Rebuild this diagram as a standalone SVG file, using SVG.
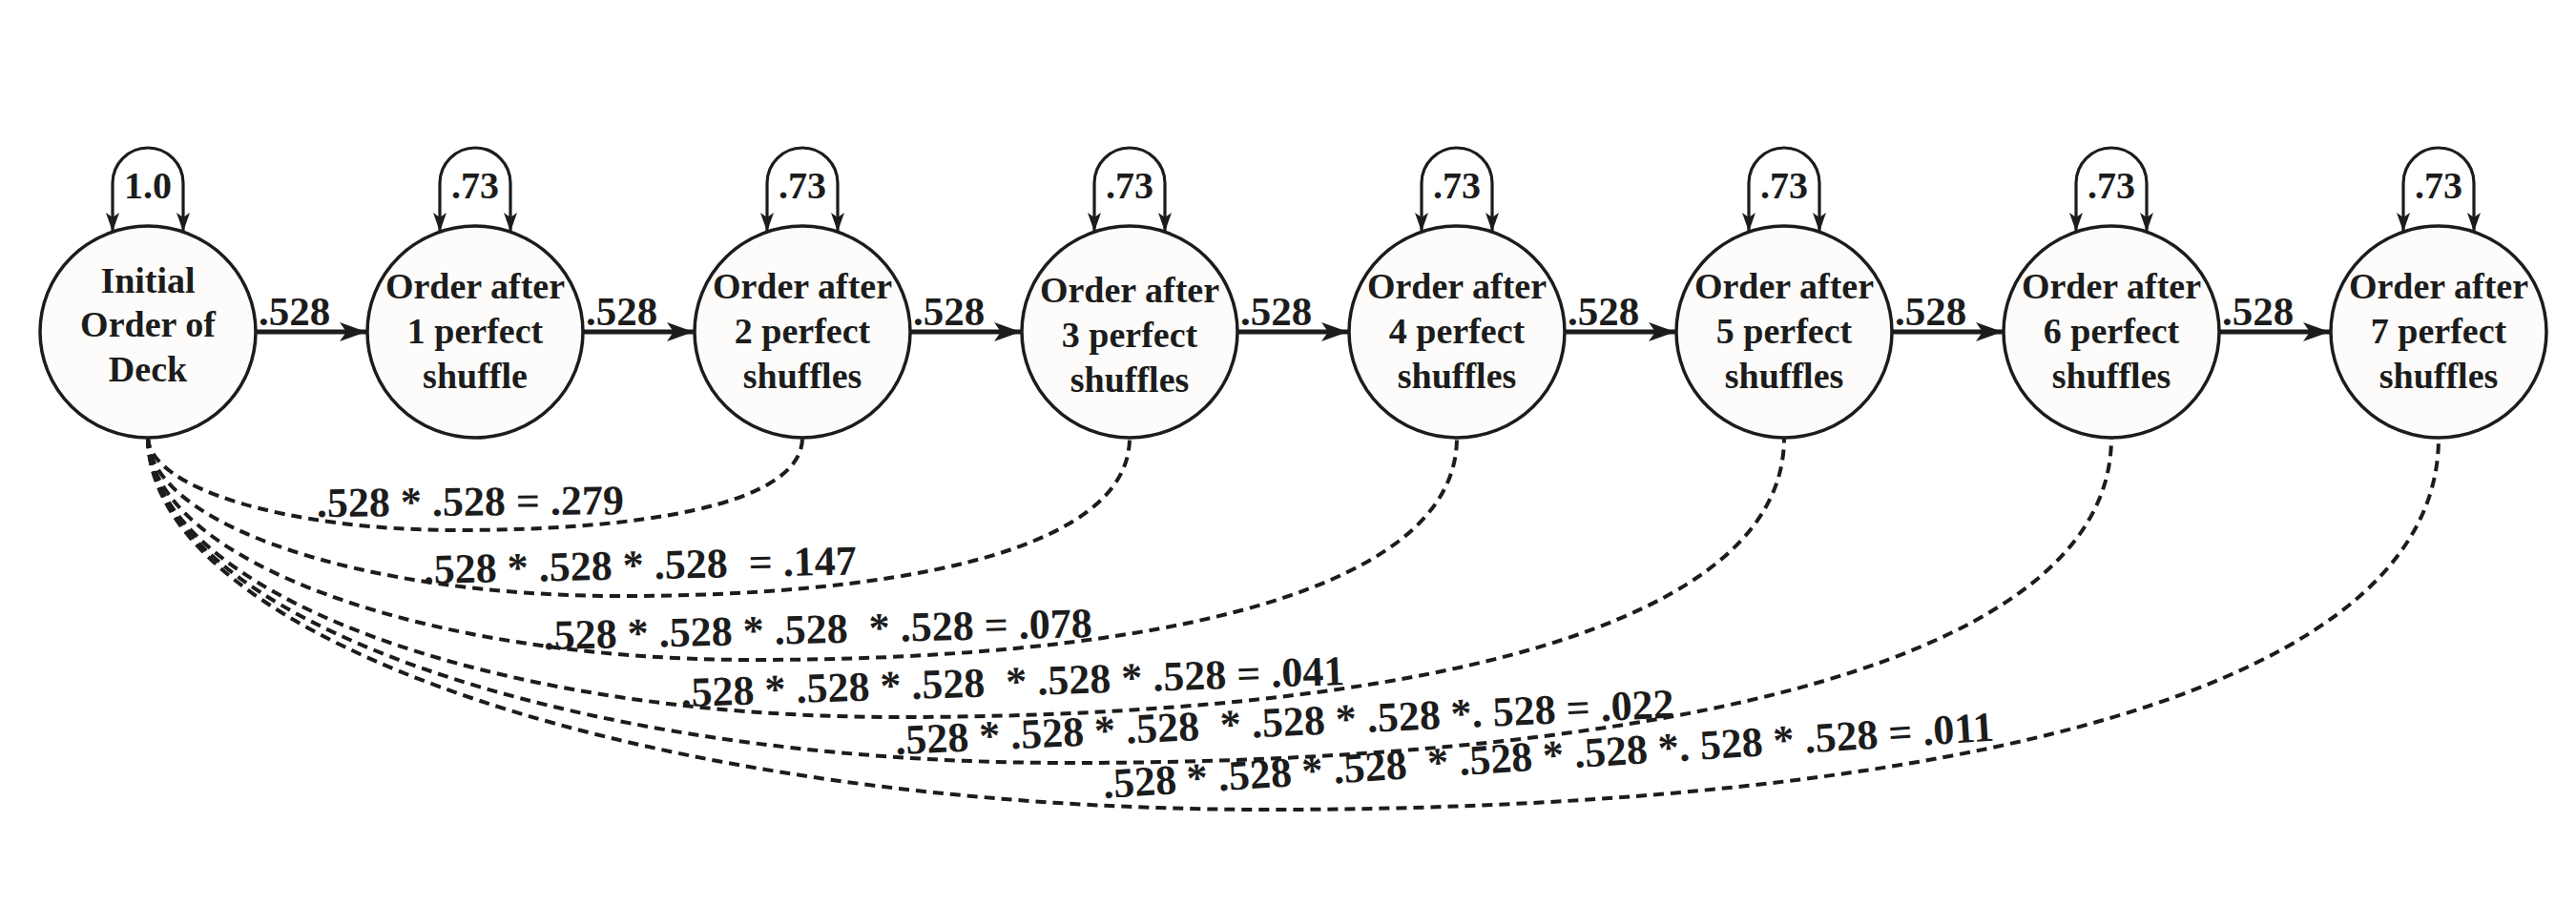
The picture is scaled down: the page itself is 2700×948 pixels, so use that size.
<svg xmlns="http://www.w3.org/2000/svg" width="2700" height="948" viewBox="0 0 2700 948">
<style>
text{font-family:"Liberation Serif","Times New Roman",serif;font-weight:bold;fill:#1c1c1c}
.node ellipse{fill:#fdfcfa;stroke:#1c1c1c;stroke-width:3.5}
.nt{font-size:38px;text-anchor:middle}
.loop{fill:none;stroke:#1c1c1c;stroke-width:3.2;marker-start:url(#ahs);marker-end:url(#ahs)}
.ll{font-size:40px;text-anchor:middle}
.edge{fill:none;stroke:#1c1c1c;stroke-width:5;marker-end:url(#ah)}
.el{font-size:43px}
.dash{fill:none;stroke:#1c1c1c;stroke-width:4;stroke-dasharray:11 7}
.dl{font-size:44px;white-space:pre}
</style>
<defs>
<marker id="ah" markerUnits="userSpaceOnUse" markerWidth="30" markerHeight="22" refX="28" refY="10" orient="auto">
<path d="M0,0 L28,10 L0,20 L7,10 z" fill="#1c1c1c"/>
</marker>
<marker id="ahs" markerUnits="userSpaceOnUse" markerWidth="22" markerHeight="16" refX="20" refY="7" orient="auto-start-reverse">
<path d="M0,0 L20,7 L0,14 L5,7 z" fill="#1c1c1c"/>
</marker>
</defs>
<rect width="2700" height="948" fill="#ffffff"/>

<g id="connectors">
<path class="loop" d="M118,243 L118,192 A37,37 0 0 1 192,192 L192,243"/>
<path class="loop" d="M461,243 L461,192 A37,37 0 0 1 535,192 L535,243"/>
<path class="loop" d="M804,243 L804,192 A37,37 0 0 1 878,192 L878,243"/>
<path class="loop" d="M1147,243 L1147,192 A37,37 0 0 1 1221,192 L1221,243"/>
<path class="loop" d="M1490,243 L1490,192 A37,37 0 0 1 1564,192 L1564,243"/>
<path class="loop" d="M1833,243 L1833,192 A37,37 0 0 1 1907,192 L1907,243"/>
<path class="loop" d="M2176,243 L2176,192 A37,37 0 0 1 2250,192 L2250,243"/>
<path class="loop" d="M2519,243 L2519,192 A37,37 0 0 1 2593,192 L2593,243"/>
<text class="ll" x="155" y="208">1.0</text>
<text class="ll" x="498" y="208">.73</text>
<text class="ll" x="841" y="208">.73</text>
<text class="ll" x="1184" y="208">.73</text>
<text class="ll" x="1527" y="208">.73</text>
<text class="ll" x="1870" y="208">.73</text>
<text class="ll" x="2213" y="208">.73</text>
<text class="ll" x="2556" y="208">.73</text>

<path class="edge" d="M268,348 L384,348"/>
<path class="edge" d="M611,348 L727,348"/>
<path class="edge" d="M954,348 L1070,348"/>
<path class="edge" d="M1297,348 L1413,348"/>
<path class="edge" d="M1640,348 L1756,348"/>
<path class="edge" d="M1983,348 L2099,348"/>
<path class="edge" d="M2326,348 L2442,348"/>
<text class="el" x="271" y="341">.528</text>
<text class="el" x="614" y="341">.528</text>
<text class="el" x="957" y="341">.528</text>
<text class="el" x="1300" y="341">.528</text>
<text class="el" x="1643" y="341">.528</text>
<text class="el" x="1986" y="341">.528</text>
<text class="el" x="2329" y="341">.528</text>

<path class="dash" d="M155,459 C157,512 301,556 480,556 C660,556 841,532 841,459"/>
<path class="dash" d="M155,459 C157,550 378,625 651,625 C917,625 1184,584 1184,459"/>
<path class="dash" d="M155,459 C157,587 441,692 791,692 C1159,692 1527,634 1527,459"/>
<path class="dash" d="M155,459 C157,620 508,752 940,752 C1405,752 1870,679 1870,459"/>
<path class="dash" d="M155,459 C157,646 589,800 1120,800 C1667,800 2213,714 2213,459"/>
<path class="dash" d="M155,459 C157,673 684,849 1330,849 C1943,849 2556,752 2556,459"/>

<text class="dl" xml:space="preserve" x="332" y="542" transform="rotate(-0.5 332 542)">.528 * .528 = .279</text>
<text class="dl" xml:space="preserve" x="444" y="612" transform="rotate(-1.2 444 612)">.528 * .528 * .528  = .147</text>
<text class="dl" xml:space="preserve" x="570" y="681" transform="rotate(-1.3 570 681)">.528 * .528 * .528  * .528 = .078</text>
<text class="dl" xml:space="preserve" x="714" y="741" transform="rotate(-1.9 714 741)">.528 * .528 * .528  * .528 * .528 = .041</text>
<text class="dl" xml:space="preserve" x="939" y="791" transform="rotate(-2.7 939 791)">.528 * .528 * .528  * .528 * .528 *. 528 = .022</text>
<text class="dl" xml:space="preserve" x="1157" y="837" transform="rotate(-3.7 1157 837)">.528 * .528 * .528  * .528 * .528 *. 528 * .528 = .011</text>
</g>

<g id="n0" class="node"><ellipse cx="155" cy="348" rx="113" ry="111"/>
<text class="nt" x="155" y="307">Initial</text><text class="nt" x="155" y="353">Order of</text><text class="nt" x="155" y="400">Deck</text></g>
<g id="n1" class="node"><ellipse cx="498" cy="348" rx="113" ry="111"/>
<text class="nt" x="498" y="313">Order after</text><text class="nt" x="498" y="360">1 perfect</text><text class="nt" x="498" y="407">shuffle</text></g>
<g id="n2" class="node"><ellipse cx="841" cy="348" rx="113" ry="111"/>
<text class="nt" x="841" y="313">Order after</text><text class="nt" x="841" y="360">2 perfect</text><text class="nt" x="841" y="407">shuffles</text></g>
<g id="n3" class="node"><ellipse cx="1184" cy="348" rx="113" ry="111"/>
<text class="nt" x="1184" y="317">Order after</text><text class="nt" x="1184" y="364">3 perfect</text><text class="nt" x="1184" y="411">shuffles</text></g>
<g id="n4" class="node"><ellipse cx="1527" cy="348" rx="113" ry="111"/>
<text class="nt" x="1527" y="313">Order after</text><text class="nt" x="1527" y="360">4 perfect</text><text class="nt" x="1527" y="407">shuffles</text></g>
<g id="n5" class="node"><ellipse cx="1870" cy="348" rx="113" ry="111"/>
<text class="nt" x="1870" y="313">Order after</text><text class="nt" x="1870" y="360">5 perfect</text><text class="nt" x="1870" y="407">shuffles</text></g>
<g id="n6" class="node"><ellipse cx="2213" cy="348" rx="113" ry="111"/>
<text class="nt" x="2213" y="313">Order after</text><text class="nt" x="2213" y="360">6 perfect</text><text class="nt" x="2213" y="407">shuffles</text></g>
<g id="n7" class="node"><ellipse cx="2556" cy="348" rx="113" ry="111"/>
<text class="nt" x="2556" y="313">Order after</text><text class="nt" x="2556" y="360">7 perfect</text><text class="nt" x="2556" y="407">shuffles</text></g>
</svg>
